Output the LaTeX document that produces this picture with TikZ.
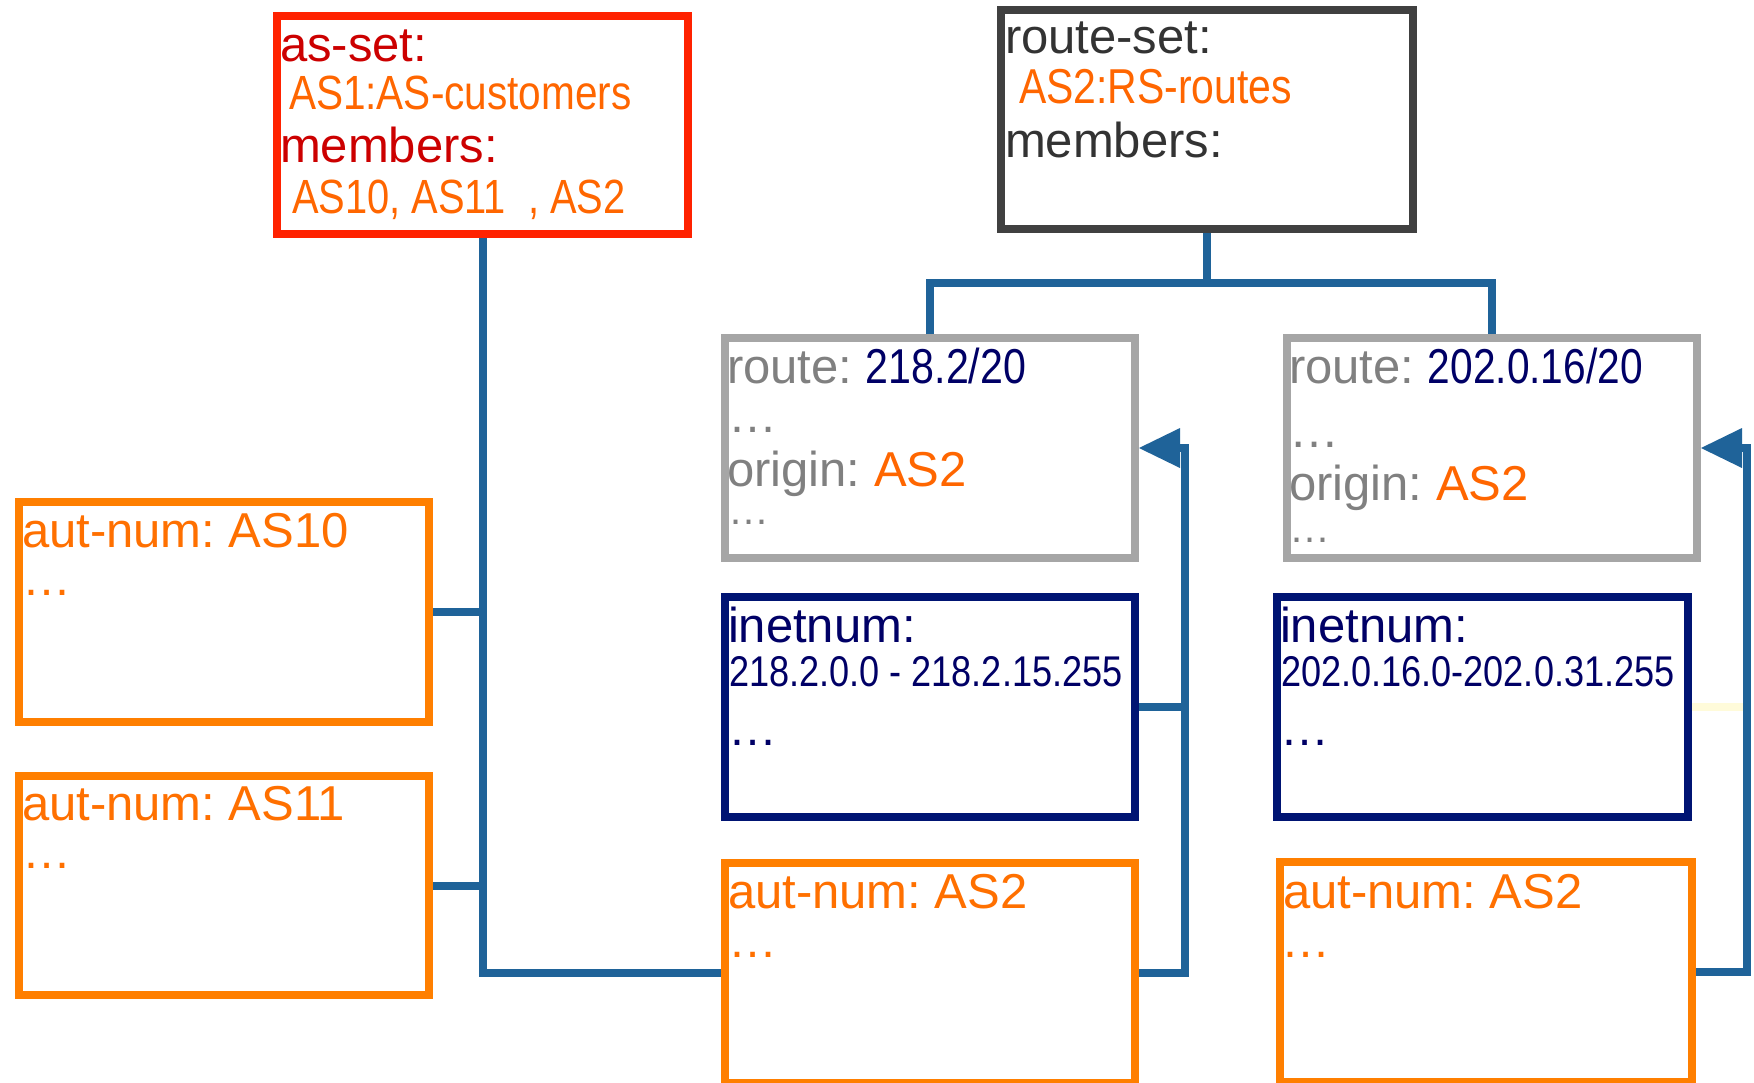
\documentclass[tikz,border=0pt]{standalone}
\usepackage{graphicx}
\usepackage{fontspec}
\setmainfont{Liberation Sans}
\frenchspacing
\usetikzlibrary{arrows.meta}
\definecolor{connblue}{RGB}{31,99,153}
\definecolor{asred}{RGB}{255,34,0}
\definecolor{labred}{RGB}{204,0,0}
\definecolor{valorange}{RGB}{255,102,0}
\definecolor{autorange}{RGB}{255,127,0}
\definecolor{autext}{RGB}{255,112,0}
\definecolor{rsgray}{RGB}{64,64,64}
\definecolor{rstext}{RGB}{51,51,51}
\definecolor{routegray}{RGB}{166,166,166}
\definecolor{labgray}{RGB}{128,128,128}
\definecolor{navytext}{RGB}{0,0,102}
\definecolor{inetnavy}{RGB}{0,20,115}
\definecolor{paleyellow}{RGB}{255,251,218}
\newcommand{\fsz}[1]{\fontsize{#1}{#1}\selectfont\frenchspacing}
\newcommand{\narr}[2][0.82]{\scalebox{#1}[1]{#2}}
\begin{document}
\begin{tikzpicture}[x=1pt,y=-1pt,
  box/.style={draw, line width=8pt, inner sep=0pt, rectangle},
  tx/.style={anchor=base west, inner sep=0pt, outer sep=0pt},
  conn/.style={draw=connblue, line width=8pt},
  arr/.style={-{Triangle[length=41pt,width=40pt,line width=0pt]}}]
\fill[white] (0,0) rectangle (1754,1082);
\useasboundingbox (0,0) rectangle (1754,1082);

% boxes
\node[box, draw=asred, minimum width=411pt, minimum height=218pt] (asset) at (482.5,125) {};
\node[box, draw=rsgray, minimum width=412pt, minimum height=219pt] (rset) at (1207,119.5) {};
\node[box, draw=routegray, minimum width=410pt, minimum height=220pt] (route1) at (930,448) {};
\node[box, draw=routegray, minimum width=410pt, minimum height=220pt] (route2) at (1492,448) {};
\node[box, draw=inetnavy, minimum width=410pt, minimum height=220pt] (inet1) at (930,707) {};
\node[box, draw=inetnavy, minimum width=411pt, minimum height=220pt] (inet2) at (1482.5,707) {};
\node[box, draw=autorange, minimum width=410pt, minimum height=220pt] (as10) at (224,612) {};
\node[box, draw=autorange, minimum width=410pt, minimum height=219pt] (as11) at (224,885.5) {};
\node[box, draw=autorange, minimum width=410pt, minimum height=220pt] (as2l) at (930,973) {};
\node[box, draw=autorange, minimum width=412pt, minimum height=220pt] (as2r) at (1486,972) {};

% connectors
\coordinate (rsj) at (1207,283);
\coordinate (v1) at (1185,448);
\coordinate (v2) at (1747,448);
\draw[conn] (asset.south) |- (as2l.west);
\draw[conn] (as10.east) -- (as10.east -| asset.south);
\draw[conn] (as11.east) -- (as11.east -| asset.south);
\draw[conn] (rset.south) -- (rsj);
\draw[conn] (route1.north) |- (rsj) -| (route2.north);
\draw[conn] (inet1.east) -- (inet1.east -| v1);
\draw[draw=paleyellow, line width=8pt] (inet2.east) -- (inet2.east -| v2);
\draw[conn, arr] (as2l.east) -| (v1) -- (route1.east);
\draw[conn, arr] (as2r.east) -| (v2) -- (route2.east);

% as-set texts
\node[tx, text=labred, font=\fsz{49}] (assetl1) at (280,61) {as-set:};
\node[tx, text=valorange, font=\fsz{48}] (assetv1) at (289,109) {\narr[0.845]{AS1:AS-customers}};
\node[tx, text=labred, font=\fsz{49}] (assetl2) at (280,162) {members:};
\node[tx, text=valorange, font=\fsz{48}] (assetv2) at (292,213) {\narr[0.83]{AS10, AS11\ \ , AS2}};

% route-set texts
\node[tx, text=rstext, font=\fsz{49}] (rsetl1) at (1005,53) {route-set:};
\node[tx, text=valorange, font=\fsz{49}] (rsetv1) at (1019,103) {\narr[0.835]{AS2:RS-routes}};
\node[tx, text=rstext, font=\fsz{49}] (rsetl2) at (1005,157) {members:};

% route 1 texts
\node[tx, font=\fsz{49}] (r1a) at (727,383) {\textcolor{labgray}{route:} \textcolor{navytext}{\narr[0.84]{218.2/20}}};
\node[tx, text=labgray, font=\fsz{49}] (r1b) at (728,432) {…};
\node[tx, font=\fsz{49}] (r1c) at (727,486) {\textcolor{labgray}{origin:} \textcolor{valorange}{AS2}};
\node[tx, text=labgray, font=\fsz{41}] (r1d) at (728,524) {…};

% route 2 texts
\node[tx, font=\fsz{49}] (r2a) at (1289,383) {\textcolor{labgray}{route:} \textcolor{navytext}{\narr[0.83]{202.0.16/20}}};
\node[tx, text=labgray, font=\fsz{50}] (r2b) at (1289,447) {…};
\node[tx, font=\fsz{49}] (r2c) at (1289,500) {\textcolor{labgray}{origin:} \textcolor{valorange}{AS2}};
\node[tx, text=labgray, font=\fsz{41}] (r2d) at (1289,542) {…};

% inetnum texts
\node[tx, text=navytext, font=\fsz{49}] (i1a) at (728,642) {inetnum:};
\node[tx, text=navytext, font=\fsz{43}] (i1b) at (729,686) {\narr[0.84]{218.2.0.0 - 218.2.15.255}};
\node[tx, text=navytext, font=\fsz{49}] (i1c) at (728,745) {…};
\node[tx, text=navytext, font=\fsz{49}] (i2a) at (1280,642) {inetnum:};
\node[tx, text=navytext, font=\fsz{43}] (i2b) at (1281,686) {\narr[0.84]{202.0.16.0-202.0.31.255}};
\node[tx, text=navytext, font=\fsz{49}] (i2c) at (1280,745) {…};

% aut-num texts
\node[tx, text=autext, font=\fsz{49}] (a10a) at (22,547) {aut-num: AS10};
\node[tx, text=autext, font=\fsz{49}] (a10b) at (22,595) {…};
\node[tx, text=autext, font=\fsz{49}] (a11a) at (22,820) {aut-num: AS11};
\node[tx, text=autext, font=\fsz{49}] (a11b) at (22,868) {…};
\node[tx, text=autext, font=\fsz{49}] (a2la) at (728,908) {aut-num: AS2};
\node[tx, text=autext, font=\fsz{49}] (a2lb) at (728,957) {…};
\node[tx, text=autext, font=\fsz{49}] (a2ra) at (1283,908) {aut-num: AS2};
\node[tx, text=autext, font=\fsz{49}] (a2rb) at (1281,957) {…};
\end{tikzpicture}
\end{document}
